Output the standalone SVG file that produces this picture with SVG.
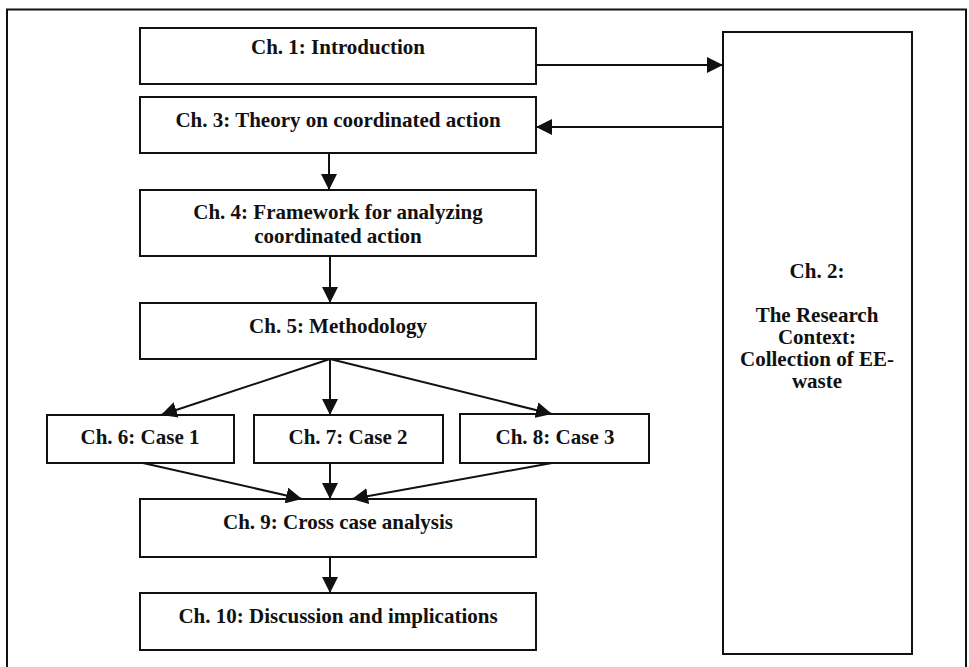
<svg xmlns="http://www.w3.org/2000/svg" width="969" height="667" viewBox="0 0 969 667">
<style>
.box{fill:#fff;stroke:#111;stroke-width:2}
.t{font-family:"Liberation Serif","Times New Roman",serif;font-weight:bold;font-size:21px;fill:#111;text-anchor:middle}
.c{stroke:#111;stroke-width:2;fill:none;marker-end:url(#ah)}
.frame{stroke:#111;stroke-width:2;fill:none}
</style>
<defs>
<marker id="ah" viewBox="0 0 16 16" refX="16" refY="8" markerWidth="16" markerHeight="16" markerUnits="userSpaceOnUse" orient="auto">
<path d="M0,0 L16,8 L0,16 Z" fill="#111"/>
</marker>
</defs>
<rect width="969" height="667" fill="#fff"/>
<path class="frame" d="M7,667 L7,9.5 L966,9.5 L966,667"/>

<g id="ch1"><rect class="box" x="140" y="28" width="396" height="56"/><text class="t" x="338" y="54">Ch. 1: Introduction</text></g>
<g id="ch3"><rect class="box" x="140" y="97" width="396" height="56"/><text class="t" x="338" y="127">Ch. 3: Theory on coordinated action</text></g>
<g id="ch4"><rect class="box" x="140" y="190" width="396" height="66"/><text class="t" x="338" y="219">Ch. 4: Framework for analyzing<tspan x="338" dy="24">coordinated action</tspan></text></g>
<g id="ch5"><rect class="box" x="140" y="303" width="396" height="56"/><text class="t" x="338" y="333">Ch. 5: Methodology</text></g>
<g id="ch6"><rect class="box" x="47" y="415" width="187" height="48"/><text class="t" x="140" y="444">Ch. 6: Case 1</text></g>
<g id="ch7"><rect class="box" x="254" y="415" width="189" height="48"/><text class="t" x="348" y="444">Ch. 7: Case 2</text></g>
<g id="ch8"><rect class="box" x="460" y="414" width="189" height="49"/><text class="t" x="555" y="444">Ch. 8: Case 3</text></g>
<g id="ch9"><rect class="box" x="140" y="499" width="396" height="58"/><text class="t" x="338" y="529">Ch. 9: Cross case analysis</text></g>
<g id="ch10"><rect class="box" x="140" y="593" width="396" height="57"/><text class="t" x="338" y="623">Ch. 10: Discussion and implications</text></g>
<g id="ch2"><rect class="box" x="723" y="32" width="189" height="622"/>
<text class="t" x="817" y="278">Ch. 2:<tspan x="817" dy="44">The Research</tspan><tspan x="817" dy="22">Context:</tspan><tspan x="817" dy="22">Collection of EE-</tspan><tspan x="817" dy="22">waste</tspan></text></g>

<g id="connectors">
<line class="c" x1="536" y1="65" x2="723" y2="65"/>
<line class="c" x1="723" y1="127" x2="536" y2="127"/>
<line class="c" x1="329" y1="153" x2="329" y2="190"/>
<line class="c" x1="330" y1="256" x2="330" y2="303"/>
<line class="c" x1="330" y1="359" x2="161" y2="415"/>
<line class="c" x1="330" y1="359" x2="330" y2="415"/>
<line class="c" x1="330" y1="359" x2="552" y2="414"/>
<line class="c" x1="143" y1="463" x2="302" y2="499"/>
<line class="c" x1="330" y1="463" x2="330" y2="499"/>
<line class="c" x1="552" y1="463" x2="352" y2="499"/>
<line class="c" x1="330" y1="557" x2="330" y2="593"/>
</g>
</svg>
